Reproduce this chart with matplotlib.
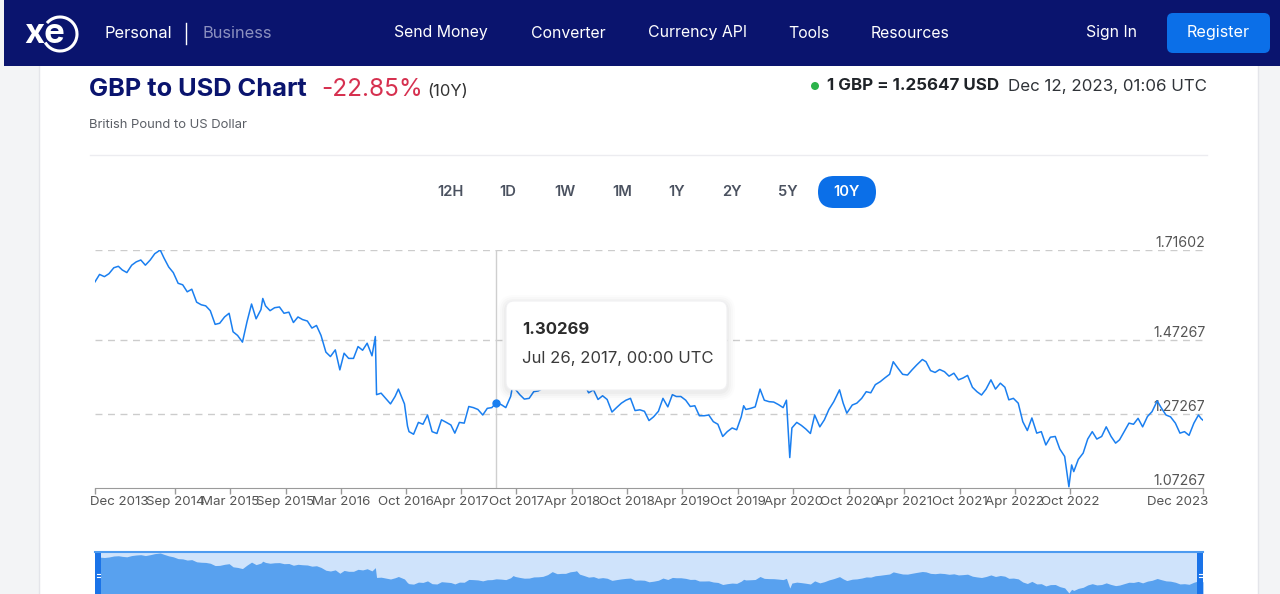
import matplotlib
matplotlib.use('Agg')  # no display in the sandbox
import matplotlib.pyplot as plt
import matplotlib.transforms as mtransforms
from matplotlib.patches import FancyBboxPatch, Rectangle, Circle, Arc
import pandas as pd

plt.rcParams['font.family'] = ['Inter', 'DejaVu Sans']

# ---- data (GBP -> USD, 10Y) ----
dates = [
    "2013-12-12", "2013-12-27", "2014-01-12", "2014-01-27", "2014-02-12", "2014-02-27",
    "2014-03-12", "2014-03-27", "2014-04-12", "2014-04-27", "2014-05-12", "2014-05-27",
    "2014-06-12", "2014-06-27", "2014-07-15", "2014-07-27", "2014-08-12", "2014-08-27",
    "2014-09-12", "2014-09-27", "2014-10-12", "2014-10-27", "2014-11-12", "2014-11-27",
    "2014-12-12", "2014-12-27", "2015-01-12", "2015-01-27", "2015-02-12", "2015-02-27",
    "2015-03-12", "2015-03-27", "2015-04-12", "2015-04-27", "2015-05-12", "2015-05-27",
    "2015-06-12", "2015-06-18", "2015-06-27", "2015-07-12", "2015-07-27", "2015-08-12",
    "2015-08-27", "2015-09-12", "2015-09-27", "2015-10-12", "2015-10-27", "2015-11-12",
    "2015-11-27", "2015-12-12", "2015-12-27", "2016-01-12", "2016-01-27", "2016-02-12",
    "2016-02-27", "2016-03-12", "2016-03-27", "2016-04-12", "2016-04-27", "2016-05-12",
    "2016-05-27", "2016-06-12", "2016-06-23", "2016-06-27", "2016-07-12", "2016-07-27",
    "2016-08-12", "2016-08-27", "2016-09-07", "2016-09-27", "2016-10-07", "2016-10-12",
    "2016-10-27", "2016-11-12", "2016-11-27", "2016-12-12", "2016-12-27", "2017-01-12",
    "2017-01-27", "2017-02-12", "2017-02-27", "2017-03-12", "2017-03-27", "2017-04-12",
    "2017-04-27", "2017-05-12", "2017-05-27", "2017-06-12", "2017-06-27", "2017-07-12",
    "2017-07-26", "2017-08-12", "2017-08-27", "2017-09-12", "2017-09-20", "2017-09-27",
    "2017-10-12", "2017-10-27", "2017-11-12", "2017-11-27", "2017-12-12", "2017-12-27",
    "2018-01-12", "2018-01-27", "2018-02-12", "2018-02-27", "2018-03-12", "2018-03-27",
    "2018-04-12", "2018-04-17", "2018-04-27", "2018-05-12", "2018-05-27", "2018-06-12",
    "2018-06-27", "2018-07-12", "2018-07-27", "2018-08-12", "2018-08-27", "2018-09-12",
    "2018-09-27", "2018-10-12", "2018-10-27", "2018-11-12", "2018-11-27", "2018-12-12",
    "2018-12-27", "2019-01-12", "2019-01-27", "2019-02-12", "2019-02-27", "2019-03-12",
    "2019-03-27", "2019-04-12", "2019-04-27", "2019-05-12", "2019-05-27", "2019-06-12",
    "2019-06-27", "2019-07-12", "2019-07-27", "2019-08-12", "2019-08-27", "2019-09-12",
    "2019-09-27", "2019-10-12", "2019-10-20", "2019-10-27", "2019-11-12", "2019-11-27",
    "2019-12-13", "2019-12-27", "2020-01-12", "2020-01-27", "2020-02-12", "2020-02-27",
    "2020-03-09", "2020-03-20", "2020-03-27", "2020-04-12", "2020-04-27", "2020-05-12",
    "2020-05-27", "2020-06-10", "2020-06-27", "2020-07-12", "2020-07-27", "2020-08-12",
    "2020-08-31", "2020-09-12", "2020-09-24", "2020-10-12", "2020-10-27", "2020-11-12",
    "2020-11-27", "2020-12-12", "2020-12-27", "2021-01-12", "2021-01-27", "2021-02-12",
    "2021-02-24", "2021-03-12", "2021-03-27", "2021-04-12", "2021-04-27", "2021-05-12",
    "2021-05-31", "2021-06-12", "2021-06-27", "2021-07-12", "2021-07-27", "2021-08-12",
    "2021-08-27", "2021-09-12", "2021-09-27", "2021-10-12", "2021-10-27", "2021-11-12",
    "2021-11-27", "2021-12-12", "2021-12-27", "2022-01-12", "2022-01-27", "2022-02-12",
    "2022-02-27", "2022-03-12", "2022-03-27", "2022-04-12", "2022-04-27", "2022-05-12",
    "2022-05-27", "2022-06-12", "2022-06-27", "2022-07-12", "2022-07-27", "2022-08-12",
    "2022-08-27", "2022-09-12", "2022-09-26", "2022-10-05", "2022-10-12", "2022-10-27",
    "2022-11-12", "2022-11-27", "2022-12-12", "2022-12-27", "2023-01-12", "2023-01-27",
    "2023-02-12", "2023-02-27", "2023-03-12", "2023-03-27", "2023-04-12", "2023-04-27",
    "2023-05-12", "2023-05-27", "2023-06-12", "2023-06-27", "2023-07-14", "2023-07-27",
    "2023-08-12", "2023-08-27", "2023-09-12", "2023-09-27", "2023-10-12", "2023-10-27",
    "2023-11-12", "2023-11-27", "2023-12-06", "2023-12-12",
]
rates = [
    1.630, 1.650, 1.644, 1.652, 1.668, 1.672,
    1.662, 1.655, 1.675, 1.684, 1.689, 1.675,
    1.689, 1.706, 1.716, 1.695, 1.670, 1.655,
    1.626, 1.622, 1.603, 1.610, 1.575, 1.568,
    1.565, 1.552, 1.515, 1.518, 1.535, 1.545,
    1.495, 1.485, 1.467, 1.522, 1.570, 1.530,
    1.555, 1.585, 1.565, 1.552, 1.560, 1.562,
    1.545, 1.548, 1.520, 1.535, 1.528, 1.524,
    1.505, 1.512, 1.485, 1.440, 1.428, 1.446,
    1.392, 1.437, 1.423, 1.423, 1.455, 1.445,
    1.464, 1.430, 1.482, 1.325, 1.329, 1.315,
    1.300, 1.320, 1.340, 1.300, 1.240, 1.225,
    1.218, 1.250, 1.245, 1.270, 1.225, 1.220,
    1.257, 1.250, 1.243, 1.221, 1.250, 1.248,
    1.293, 1.290, 1.285, 1.270, 1.288, 1.290,
    1.30269, 1.298, 1.290, 1.320, 1.355, 1.340,
    1.325, 1.313, 1.315, 1.333, 1.335, 1.342,
    1.370, 1.418, 1.385, 1.390, 1.390, 1.415,
    1.425, 1.433, 1.378, 1.355, 1.330, 1.338,
    1.312, 1.322, 1.312, 1.278, 1.290, 1.302,
    1.310, 1.315, 1.282, 1.284, 1.280, 1.255,
    1.265, 1.280, 1.315, 1.292, 1.325, 1.320,
    1.320, 1.310, 1.293, 1.295, 1.268, 1.268,
    1.270, 1.252, 1.245, 1.212, 1.225, 1.235,
    1.230, 1.265, 1.295, 1.285, 1.288, 1.292,
    1.340, 1.310, 1.306, 1.305, 1.298, 1.290,
    1.310, 1.155, 1.235, 1.250, 1.242, 1.232,
    1.220, 1.270, 1.238, 1.257, 1.285, 1.306,
    1.338, 1.302, 1.275, 1.297, 1.302, 1.315,
    1.333, 1.330, 1.352, 1.360, 1.370, 1.380,
    1.414, 1.396, 1.380, 1.378, 1.392, 1.405,
    1.420, 1.414, 1.390, 1.385, 1.393, 1.387,
    1.375, 1.383, 1.365, 1.370, 1.377, 1.345,
    1.333, 1.324, 1.340, 1.365, 1.340, 1.356,
    1.345, 1.311, 1.315, 1.302, 1.252, 1.228,
    1.262, 1.221, 1.225, 1.189, 1.210, 1.212,
    1.178, 1.158, 1.076, 1.135, 1.117, 1.150,
    1.167, 1.205, 1.225, 1.205, 1.212, 1.238,
    1.212, 1.194, 1.203, 1.225, 1.248, 1.245,
    1.261, 1.238, 1.266, 1.279, 1.308, 1.290,
    1.270, 1.265, 1.248, 1.221, 1.225, 1.215,
    1.248, 1.270, 1.260, 1.256,
]

y_ticks = [1.71602, 1.47267, 1.27267, 1.07267]
x_tick_dates = ["2013-12-12", "2014-09-01", "2015-03-01", "2015-09-01", "2016-03-01",
                "2016-10-01", "2017-04-01", "2017-10-01", "2018-04-01", "2018-10-01",
                "2019-04-01", "2019-10-01", "2020-04-01", "2020-10-01", "2021-04-01",
                "2021-10-01", "2022-04-01", "2022-10-01", "2023-12-12"]
x_tick_labels = ["Dec 2013", "Sep 2014", "Mar 2015", "Sep 2015", "Mar 2016", "Oct 2016",
                 "Apr 2017", "Oct 2017", "Apr 2018", "Oct 2018", "Apr 2019", "Oct 2019",
                 "Apr 2020", "Oct 2020", "Apr 2021", "Oct 2021", "Apr 2022", "Oct 2022",
                 "Dec 2023"]
ranges = ["12H", "1D", "1W", "1M", "1Y", "2Y", "5Y", "10Y"]
nav_items = ["Send Money", "Converter", "Currency API", "Tools", "Resources", "Sign In"]

hover_date, hover_rate = "2017-07-26", 1.30269

# ---- colours ----
NAVY = '#0a146e'
BLUE = '#0b6fe8'
LINE = '#1a7ff0'
GREY = '#5b5f66'

W, H = 1280, 594
fig = plt.figure(figsize=(W / 100, H / 100), dpi=100)
fig.patch.set_facecolor('#f3f4f6')

# background layer in pixel coordinates (y grows downwards)
bg = fig.add_axes([0, 0, 1, 1], zorder=0)
bg.set_xlim(0, W)
bg.set_ylim(H, 0)
bg.axis('off')

# card
bg.add_patch(Rectangle((39, 60), 1219, 560, fc='white', ec='#e4e5ea', lw=1))

# navbar
bg.add_patch(Rectangle((4, 0), W, 66, fc=NAVY, ec='none'))
bg.text(24, 34, "xe", color='white', fontsize=25, fontweight='bold', va='center', ha='left')
bg.add_patch(Arc((60, 34), 34, 34, theta1=-140, theta2=150, color='white', lw=2.2))
bg.text(104, 33, "Personal", color='white', fontsize=11.8, va='center', ha='left')
bg.plot([186, 186], [23, 44], color='white', lw=1)
bg.text(202, 33, "Business", color='#8c90bf', fontsize=11.8, va='center', ha='left')
for label, xc in zip(nav_items, [441, 568, 697, 809, 910, 1111]):
    bg.text(xc, 33, label, color='white', fontsize=11.4, va='center', ha='center')
bg.add_patch(FancyBboxPatch((1167, 13), 103, 40, boxstyle='round,pad=0,rounding_size=6',
                            fc=BLUE, ec='none'))
bg.text(1218.5, 33, "Register", color='white', fontsize=11.6, va='center', ha='center')

# header
bg.text(89, 89, "GBP to USD Chart", color=NAVY, fontsize=18.3, fontweight='bold',
        va='center', ha='left')
bg.text(321, 89, "-22.85%", color='#d6304f', fontsize=17.5, va='center', ha='left')
bg.text(427, 91, "(10Y)", color='#333333', fontsize=12, va='center', ha='left')
bg.text(89, 125, "British Pound to US Dollar", color=GREY, fontsize=9.4, va='center', ha='left')
bg.add_patch(Circle((815, 86), 4, fc='#2cb34a', ec='none'))
bg.text(827, 86, "1 GBP = 1.25647 USD", color='#1f2328', fontsize=12.2, fontweight='bold',
        va='center', ha='left')
bg.text(1207, 86, "Dec 12, 2023, 01:06 UTC", color='#2f3338', fontsize=12.2,
        va='center', ha='right')
bg.plot([90, 1207], [155, 155], color='#ececf0', lw=1)

# range buttons
for label, xc in zip(ranges, [450, 508, 565, 622, 677, 732, 788, 847]):
    if label == "10Y":
        bg.add_patch(FancyBboxPatch((818, 176), 58, 32, boxstyle='round,pad=0,rounding_size=16',
                                    fc=BLUE, ec='none'))
        bg.text(xc, 192, label, color='white', fontsize=10.6, fontweight='semibold',
                va='center', ha='center')
    else:
        bg.text(xc, 192, label, color='#4b5260', fontsize=10.6, fontweight='semibold',
                va='center', ha='center')

# ---- main chart ----
d = pd.to_datetime(dates)
start, end = pd.Timestamp("2013-12-12"), pd.Timestamp("2023-12-12")

ax = fig.add_axes([95 / W, 1 - 488 / H, 1108 / W, 238 / H], zorder=2)
ax.patch.set_alpha(0)
for v in y_ticks[:3]:
    ax.axhline(v, color='#cccccc', lw=1, ls=(0, (5, 4)), zorder=0)
ax.plot(d, rates, color=LINE, lw=1.1, zorder=3)
ax.axvline(pd.Timestamp(hover_date), color='#cfcfcf', lw=1, zorder=2)
ax.plot(pd.Timestamp(hover_date), hover_rate, 'o', ms=5, color=LINE, zorder=4)
ax.set_xlim(start, end)
ax.set_ylim(y_ticks[-1], y_ticks[0])

for s in ['top', 'left', 'right']:
    ax.spines[s].set_visible(False)
ax.spines['bottom'].set_color('#9a9a9a')
ax.set_yticks([])
ax.set_xticks(pd.to_datetime(x_tick_dates))
ax.set_xticklabels(x_tick_labels)
ax.tick_params(axis='x', length=4, width=1, color='#9a9a9a', labelsize=9.6,
               labelcolor='#555555', pad=2)
tl = ax.get_xticklabels()
tl[0].set_ha('left')
tl[0].set_transform(tl[0].get_transform() + mtransforms.ScaledTranslation(-5 / 100, 0, fig.dpi_scale_trans))
tl[-1].set_ha('right')
tl[-1].set_transform(tl[-1].get_transform() + mtransforms.ScaledTranslation(5 / 100, 0, fig.dpi_scale_trans))

ytrans = mtransforms.blended_transform_factory(ax.transAxes, ax.transData)
for v in y_ticks:
    ax.text(1.002, v, f"{v:.5f}", transform=ytrans, ha='right', va='bottom',
            fontsize=10.2, color='#555555', zorder=1)

# ---- navigator strip ----
nav = fig.add_axes([95 / W, 1 - 600 / H, 1108 / W, 49 / H], zorder=2)
nav.set_facecolor('#cfe3fb')
nav.fill_between(d, rates, 0.9, color='#58a1ef', lw=0)
nav.set_xlim(start, end)
nav.set_ylim(0.964, 1.748)
nav.set_xticks([])
nav.set_yticks([])
for s in nav.spines.values():
    s.set_visible(False)

# ---- overlay: tooltip and navigator handles ----
top = fig.add_axes([0, 0, 1, 1], zorder=5)
top.set_xlim(0, W)
top.set_ylim(H, 0)
top.axis('off')

for i, a in enumerate([0.025, 0.02, 0.015, 0.01]):
    g = 2 + i * 2
    top.add_patch(FancyBboxPatch((506 - g, 301 - g + 2), 221 + 2 * g, 89 + 2 * g,
                                 boxstyle='round,pad=0,rounding_size=%d' % (8 + g),
                                 fc='black', ec='none', alpha=a))
top.add_patch(FancyBboxPatch((506, 301), 221, 89, boxstyle='round,pad=0,rounding_size=8',
                             fc='white', ec='#f0f0f2', lw=0.8))
top.text(522, 330, f"{hover_rate:.5f}", color='#2b2b2b', fontsize=12, fontweight='bold',
         va='center', ha='left')
top.text(522, 359, pd.Timestamp(hover_date).strftime("%b %d, %Y, 00:00 UTC"),
         color='#3a3a3a', fontsize=12, va='center', ha='left')

top.plot([95, 1203], [551.5, 551.5], color='#4d9bf0', lw=1.5)
for hx in [95, 1197]:
    top.add_patch(Rectangle((hx, 551), 6, 50, fc='#1a73e8', ec='none'))
    top.plot([hx + 1.5, hx + 4.5], [574, 574], color='white', lw=0.8)
    top.plot([hx + 1.5, hx + 4.5], [577, 577], color='white', lw=0.8)

fig.savefig('out.png', dpi=100)
